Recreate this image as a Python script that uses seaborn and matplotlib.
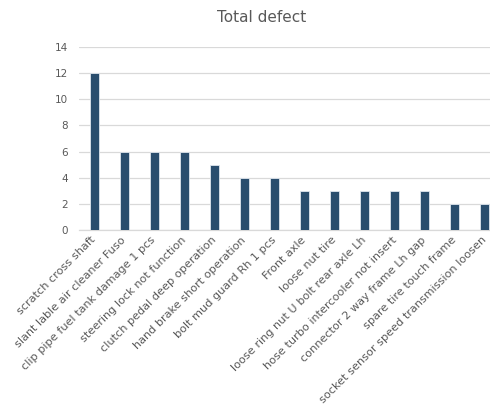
import matplotlib
matplotlib.use("Agg")
import matplotlib.pyplot as plt
import seaborn as sns
import pandas as pd

categories = [
    "scratch cross shaft",
    "slant lable air cleaner Fuso",
    "clip pipe fuel tank damage 1 pcs",
    "steering lock not function",
    "clutch pedal deep operation",
    "hand brake short operation",
    "bolt mud guard Rh 1 pcs",
    "Front axle",
    "loose nut tire",
    "loose ring nut U bolt rear axle Lh",
    "hose turbo intercooler not insert",
    "connector 2 way frame Lh gap",
    "spare tire touch frame",
    "socket sensor speed transmission loosen",
]
defects = [12, 6, 6, 6, 5, 4, 4, 3, 3, 3, 3, 3, 2, 2]
y_ticks = [0, 2, 4, 6, 8, 10, 12, 14]

df = pd.DataFrame({"category": categories, "defects": defects})

sns.set_style("white")
plt.rcParams["font.family"] = ["DejaVu Sans"]

fig = plt.figure(figsize=(4.9, 4.17), dpi=100)
ax = fig.add_axes([79 / 490, (417 - 230) / 417, 421 / 490, 183 / 417])

sns.barplot(data=df, x="category", y="defects", color="#1f4e79",
            width=0.3, ax=ax, edgecolor="#dfe6ee", linewidth=0.6, zorder=3)

text_grey = "#595959"
ax.set_ylim(0, 14)
ax.set_xlim(-0.5, len(categories) - 0.5)
ax.set_yticks(y_ticks)
ax.set_yticklabels([str(t) for t in y_ticks], color=text_grey, fontsize=7.5)
ax.yaxis.grid(True, color="#d9d9d9", linewidth=0.9, zorder=0)
ax.set_axisbelow(True)
ax.tick_params(axis="y", length=0, pad=8)
ax.tick_params(axis="x", length=0, pad=6)
ax.set_xticks(range(len(categories)))
ax.set_xticklabels(categories, rotation=45, ha="right", va="center",
                   rotation_mode="anchor", color=text_grey, fontsize=8.1)
ax.set_xlabel("")
ax.set_ylabel("")
for side in ["top", "right", "left"]:
    ax.spines[side].set_visible(False)
ax.spines["bottom"].set_color("#d9d9d9")
ax.spines["bottom"].set_linewidth(0.9)

fig.text(262 / 490, 1 - 18 / 417, "Total defect", ha="center", va="center",
         fontsize=11, color=text_grey)

fig.savefig("out.png", dpi=100)
